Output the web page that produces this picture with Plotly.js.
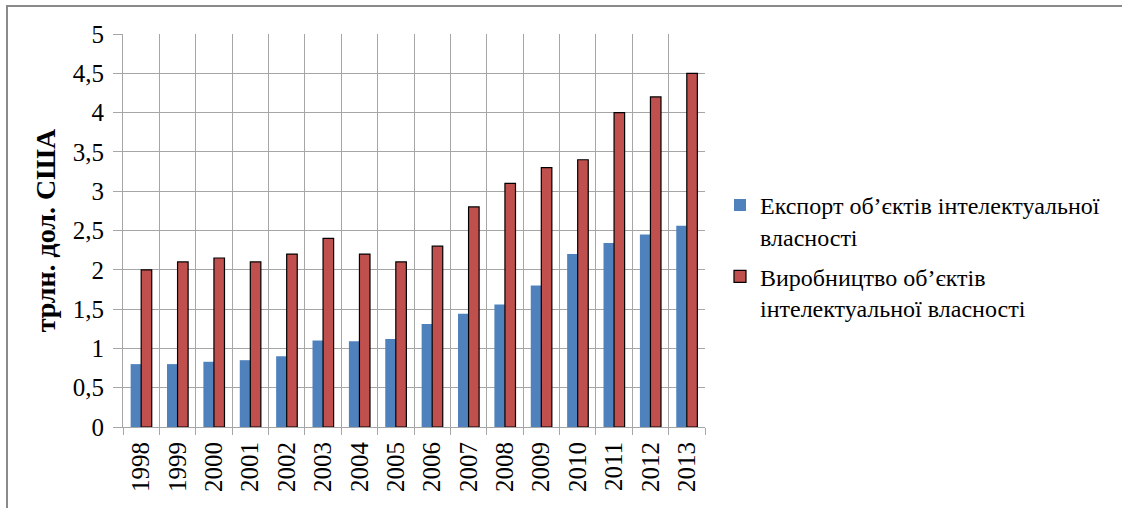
<!DOCTYPE html>
<html>
<head>
<meta charset="utf-8">
<script src="https://cdn.plot.ly/plotly-3.0.1.min.js"></script>
<style>
html,body{margin:0;padding:0;background:#fff;}
#wrap{position:relative;width:1122px;height:508px;overflow:hidden;}
#chart{position:absolute;left:0;top:0;width:1122px;height:508px;}
#frame{position:absolute;left:6px;top:5px;width:1130px;height:520px;border-left:2px solid #8a8a8a;border-top:2px solid #8a8a8a;pointer-events:none;}
</style>
</head>
<body>
<div id="wrap"><div id="chart"></div><div id="frame"></div></div>
<script>
const years = ['1998','1999','2000','2001','2002','2003','2004','2005','2006','2007','2008','2009','2010','2011','2012','2013'];
const exportValues = [0.80,0.80,0.83,0.85,0.90,1.10,1.09,1.12,1.31,1.44,1.56,1.80,2.20,2.34,2.45,2.56];
const productionValues = [2.00,2.10,2.15,2.10,2.20,2.40,2.20,2.10,2.30,2.80,3.10,3.30,3.40,4.00,4.20,4.50];
const yTickValues = [0,0.5,1,1.5,2,2.5,3,3.5,4,4.5,5];
const exportName = 'Експорт об’єктів інтелектуальної<br>власності';
const productionName = 'Виробництво об’єктів<br>інтелектуальної власності';
const yTitle = 'трлн. дол. США';

const serif = 'Liberation Serif';
const traces = [
  {type:'bar', x:years, y:exportValues, name:exportName, legendgroup:'g1',
   marker:{color:'#4F81BD', line:{width:0}}},
  {type:'bar', x:years, y:productionValues, name:productionName, legendgroup:'g2',
   marker:{color:'#C0504D', line:{color:'#000000', width:1.2}}}
];
const layout = {
  width:1122, height:508,
  margin:{l:123, r:417, t:34, b:81},
  paper_bgcolor:'rgba(0,0,0,0)', plot_bgcolor:'#ffffff',
  separators:', ',
  barmode:'group', bargap:0.42, bargroupgap:0,
  font:{family:serif, color:'#000000', size:25},
  xaxis:{type:'category', tickson:'boundaries', showgrid:true, gridcolor:'#a6a6a6', gridwidth:1,
    ticks:'outside', ticklen:7, tickcolor:'#a6a6a6', tickangle:-90, ticklabelstandoff:4,
    showline:true, linecolor:'#a6a6a6', linewidth:1, mirror:false,
    tickfont:{family:serif, size:25, color:'#000'}, fixedrange:true},
  yaxis:{range:[0,5], tickvals:yTickValues, showgrid:true, gridcolor:'#a6a6a6', gridwidth:1,
    ticks:'outside', ticklen:9, tickcolor:'#a6a6a6', showline:true, linecolor:'#a6a6a6', linewidth:1,
    zeroline:false, ticklabelstandoff:4,
    tickfont:{family:serif, size:25, color:'#000'},
    title:{text:'<b>'+yTitle+'</b>', font:{family:serif, size:28, color:'#000'}, standoff:8}},
  legend:{xref:'container', yref:'container', x:0.6417, xanchor:'left', y:0.64, yanchor:'top', valign:'top',
    traceorder:'grouped', tracegroupgap:6,
    font:{family:serif, size:24, color:'#000'}, bgcolor:'rgba(0,0,0,0)', itemwidth:30},
  showlegend:true
};
Plotly.newPlot('chart', traces, layout, {displayModeBar:false, staticPlot:true});
</script>
</body>
</html>
